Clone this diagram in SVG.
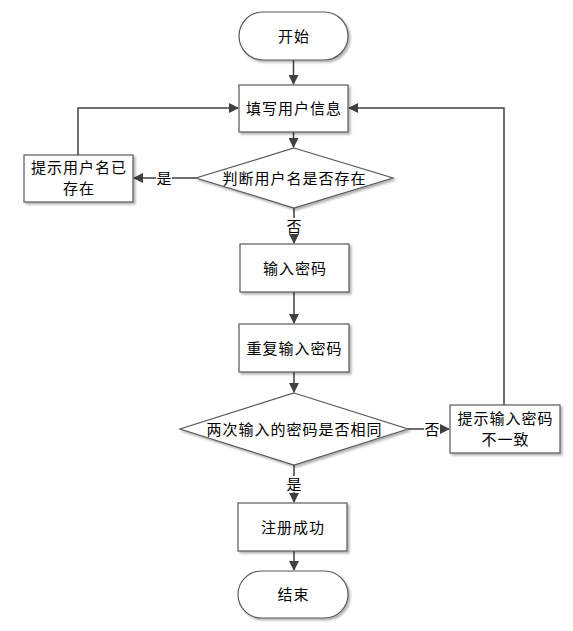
<svg xmlns="http://www.w3.org/2000/svg" width="573" height="631" viewBox="0 0 573 631">
<defs>
<marker id="arr" markerWidth="10" markerHeight="10" refX="9" refY="5" orient="auto" markerUnits="userSpaceOnUse">
<path d="M0,0 L10,5 L0,10 Z" fill="#404040"/>
</marker>
<filter id="sh" x="-10%" y="-10%" width="130%" height="130%">
<feGaussianBlur in="SourceAlpha" stdDeviation="1"/>
<feOffset dx="2" dy="2" result="b"/>
<feComponentTransfer><feFuncA type="linear" slope="0.3"/></feComponentTransfer>
<feMerge><feMergeNode/><feMergeNode in="SourceGraphic"/></feMerge>
</filter>
</defs>
<style>
.n{fill:#fff;stroke:#595959;stroke-width:1.2;filter:url(#sh)}
.t{font-family:"Liberation Sans","Noto Sans CJK SC",sans-serif;font-size:15px;letter-spacing:1px;fill:#000;text-anchor:middle;dominant-baseline:central}
.c{fill:none;stroke:#404040;stroke-width:1.5}
.lb{fill:#fff;stroke:none}
</style>
<rect width="573" height="631" fill="#fff"/>
<g id="connectors">
<path class="c" d="M293.5,60 V84" marker-end="url(#arr)"/>
<path class="c" d="M293.5,132 V147" marker-end="url(#arr)"/>
<path class="c" d="M196,178 H134" marker-end="url(#arr)"/>
<path class="c" d="M78,155 V108 H238" marker-end="url(#arr)"/>
<path class="c" d="M294,208 V243" marker-end="url(#arr)"/>
<path class="c" d="M294,292 V323" marker-end="url(#arr)"/>
<path class="c" d="M294,372 V392" marker-end="url(#arr)"/>
<path class="c" d="M408,429 H449" marker-end="url(#arr)"/>
<path class="c" d="M504,405 V108 H349" marker-end="url(#arr)"/>
<path class="c" d="M294,465 V502" marker-end="url(#arr)"/>
<path class="c" d="M294,551 V570" marker-end="url(#arr)"/>
<rect class="lb" x="156" y="170" width="16" height="16"/>
<text class="t" x="164.5" y="178">是</text>
<rect class="lb" x="287" y="218" width="14" height="16"/>
<text class="t" x="294.5" y="226">否</text>
<rect class="lb" x="424" y="421" width="16" height="16"/>
<text class="t" x="432.5" y="429">否</text>
<rect class="lb" x="287" y="476" width="14" height="16"/>
<text class="t" x="294.5" y="484">是</text>
</g>
<g id="start">
<rect class="n" x="239" y="12" width="109" height="48" rx="24"/>
<text class="t" x="294" y="36">开始</text>
</g>
<g id="fill-info">
<rect class="n" x="239" y="85" width="109" height="47"/>
<text class="t" x="294" y="108.5">填写用户信息</text>
</g>
<g id="check-user">
<polygon class="n" points="294,148 393,178 294,208 196,178"/>
<text class="t" x="294.5" y="178">判断用户名是否存在</text>
</g>
<g id="user-exists">
<rect class="n" x="24" y="155" width="109" height="47"/>
<text class="t" x="79" y="167">提示用户名已</text>
<text class="t" x="79" y="188">存在</text>
</g>
<g id="input-pwd">
<rect class="n" x="240" y="244" width="109" height="48"/>
<text class="t" x="295" y="268">输入密码</text>
</g>
<g id="repeat-pwd">
<rect class="n" x="239" y="324" width="110" height="48"/>
<text class="t" x="294.5" y="348">重复输入密码</text>
</g>
<g id="check-pwd">
<polygon class="n" points="294,393 408,429 294,465 180,429"/>
<text class="t" x="294.5" y="429">两次输入的密码是否相同</text>
</g>
<g id="pwd-mismatch">
<rect class="n" x="450" y="405" width="110" height="48"/>
<text class="t" x="505.5" y="418">提示输入密码</text>
<text class="t" x="505.5" y="439">不一致</text>
</g>
<g id="register-ok">
<rect class="n" x="238" y="503" width="109" height="48"/>
<text class="t" x="293" y="527">注册成功</text>
</g>
<g id="end">
<rect class="n" x="238" y="571" width="110" height="47" rx="23.5"/>
<text class="t" x="293.5" y="594.5">结束</text>
</g>
</svg>
